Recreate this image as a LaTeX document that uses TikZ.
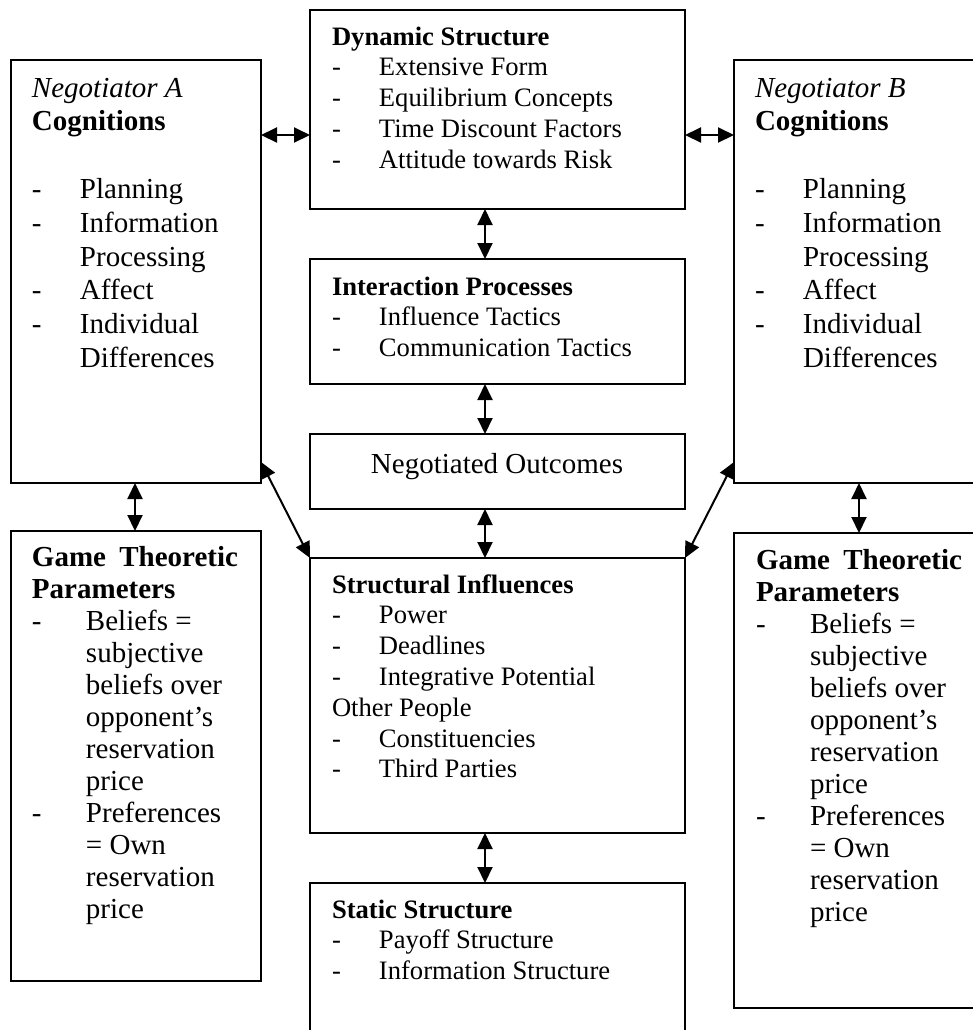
\documentclass[tikz,border=0pt]{standalone}
\usepackage{fontspec}
\setmainfont{Liberation Serif}
\usetikzlibrary{arrows.meta,fit}

% list helpers: bold heading, dashed item, continuation line
\newlength\dashw
\newcommand\hd[1]{\par\noindent\textbf{#1}}
\newcommand\li[1]{\par\noindent\makebox[\dashw][l]{-}#1}
\newcommand\lc[1]{\par\noindent\hspace*{\dashw}#1}
\newcommand\blankline{\par\noindent\mbox{}}
\newcommand\midfont{\fontsize{13.3}{15.4}\selectfont}
\newcommand\sidefont{\fontsize{14.5}{16.9}\selectfont}
\newcommand\gamefont{\fontsize{14.5}{16}\selectfont}

\tikzset{
  box/.style={draw, line width=1pt, inner sep=0pt, outer sep=0pt},
  txt/.style={anchor=base west, inner sep=0pt, outer sep=0pt},
  dbl/.style={line width=1pt,
    {Triangle[length=8pt,width=7.5pt]}-{Triangle[length=8pt,width=7.5pt]}}
}

\begin{document}
\begin{tikzpicture}[x=0.5pt,y=-0.5pt]
\useasboundingbox (0,0) rectangle (973,1030);
\clip (0,0) rectangle (973,1030);

% boxes
\node[box, fit={(11,60)(261,483)}]    (A)   {};
\node[box, fit={(734,60)(990,483)}]   (B)   {};
\node[box, fit={(310,10)(685,209)}]   (Dyn) {};
\node[box, fit={(310,259)(685,384)}]  (Int) {};
\node[box, fit={(310,434)(685,509)}]  (Out) {};
\node[box, fit={(310,558)(685,833)}]  (SI)  {};
\node[box, fit={(310,883)(685,1060)}] (SS)  {};
\node[box, fit={(11,531)(261,981)}]   (GA)  {};
\node[box, fit={(734,533)(990,1008)}] (GB)  {};

% negotiator A
\node[txt] (Atxt) at (32,97) {\parbox[t]{115pt}{\sidefont\setlength\dashw{24pt}%
  \noindent\textit{Negotiator A}\hd{Cognitions}\blankline
  \li{Planning}\li{Information}\lc{Processing}\li{Affect}\li{Individual}\lc{Differences}}};

% negotiator B
\node[txt] (Btxt) at (755,97) {\parbox[t]{115pt}{\sidefont\setlength\dashw{24pt}%
  \noindent\textit{Negotiator B}\hd{Cognitions}\blankline
  \li{Planning}\li{Information}\lc{Processing}\li{Affect}\li{Individual}\lc{Differences}}};

% centre column
\node[txt] (Dtxt) at (332,45) {\parbox[t]{170pt}{\midfont\setlength\dashw{23.5pt}%
  \hd{Dynamic Structure}\li{Extensive Form}\li{Equilibrium Concepts}%
  \li{Time Discount Factors}\li{Attitude towards Risk}}};

\node[txt] (Itxt) at (332,295) {\parbox[t]{170pt}{\midfont\setlength\dashw{23.5pt}%
  \hd{Interaction Processes}\li{Influence Tactics}\li{Communication Tactics}}};

\node[anchor=base, inner sep=0pt, font=\sidefont] (Otxt) at (497,473) {Negotiated Outcomes};

\node[txt] (Stxt) at (332,593) {\parbox[t]{170pt}{\midfont\setlength\dashw{23.5pt}%
  \hd{Structural Influences}\li{Power}\li{Deadlines}\li{Integrative Potential}%
  \par\noindent Other People\li{Constituencies}\li{Third Parties}}};

\node[txt] (Ttxt) at (332,918) {\parbox[t]{170pt}{\midfont\setlength\dashw{23.5pt}%
  \hd{Static Structure}\li{Payoff Structure}\li{Information Structure}}};

% game theoretic parameters
\node[txt] (GAtxt) at (32,566) {\parbox[t]{103pt}{\gamefont\setlength\dashw{27pt}%
  \noindent\hbox to 103pt{\textbf{Game}\hfill\textbf{Theoretic}}\hd{Parameters}%
  \li{Beliefs =}\lc{subjective}\lc{beliefs over}\lc{opponent’s}\lc{reservation}\lc{price}%
  \li{Preferences}\lc{= Own}\lc{reservation}\lc{price}}};

\node[txt] (GBtxt) at (756,569) {\parbox[t]{103pt}{\gamefont\setlength\dashw{27pt}%
  \noindent\hbox to 103pt{\textbf{Game}\hfill\textbf{Theoretic}}\hd{Parameters}%
  \li{Beliefs =}\lc{subjective}\lc{beliefs over}\lc{opponent’s}\lc{reservation}\lc{price}%
  \li{Preferences}\lc{= Own}\lc{reservation}\lc{price}}};

% connectors
\draw[dbl] (A.east |- 0,135) -- (Dyn.west |- 0,135);
\draw[dbl] (Dyn.east |- 0,135) -- (B.west |- 0,135);
\draw[dbl] (Dyn.south -| 485,0) -- (Int.north -| 485,0);
\draw[dbl] (Int.south -| 485,0) -- (Out.north -| 485,0);
\draw[dbl] (Out.south -| 485,0) -- (SI.north -| 485,0);
\draw[dbl] (SI.south -| 485,0) -- (SS.north -| 485,0);
\draw[dbl] (A.south -| 135,0) -- (GA.north -| 135,0);
\draw[dbl] (B.south -| 859,0) -- (GB.north -| 859,0);
\draw[dbl] (A.east |- 0,462) -- (SI.north west);
\draw[dbl] (B.west |- 0,462) -- (SI.north east);
\end{tikzpicture}
\end{document}
